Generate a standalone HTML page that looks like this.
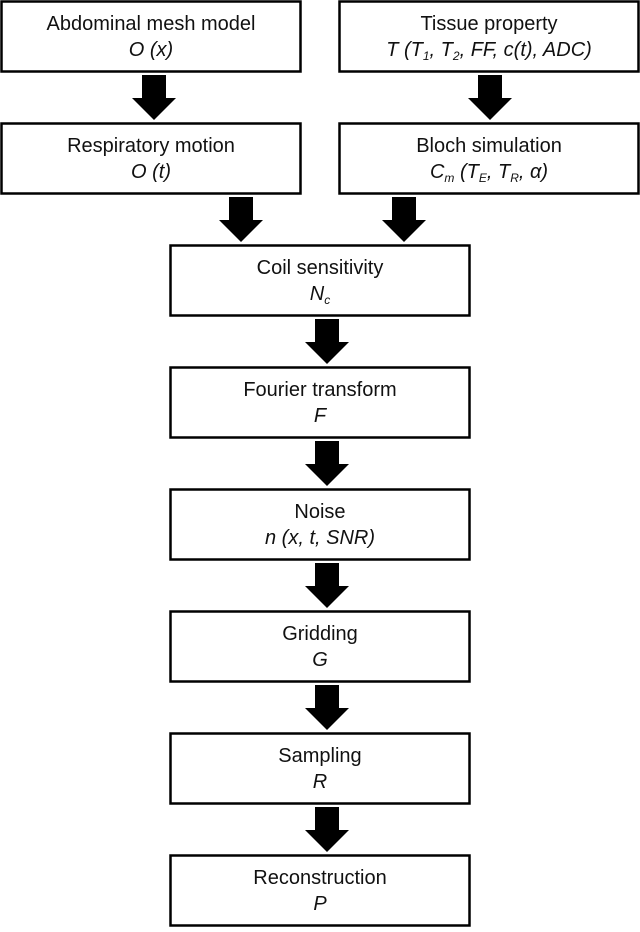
<!DOCTYPE html>
<html><head><meta charset="utf-8"><style>
html,body{margin:0;padding:0;background:#fff;}
svg{display:block}
text{font-family:"Liberation Sans",sans-serif;font-size:20px;fill:#111;}
.i{font-style:italic}
</style></head><body>
<svg width="640" height="932" viewBox="0 0 640 932">
<defs>
<path id="ar" d="M-12,0 H12 V23 H22 L0,45 L-22,23 H-12 Z" fill="#000"/>
</defs>
<g fill="none" stroke="#000" stroke-width="2.5">
<rect x="1.5" y="1.5" width="299" height="70"/>
<rect x="339.5" y="1.5" width="299" height="70"/>
<rect x="1.5" y="123.5" width="299" height="70"/>
<rect x="339.5" y="123.5" width="299" height="70"/>
<rect x="170.5" y="245.5" width="299" height="70"/>
<rect x="170.5" y="367.5" width="299" height="70"/>
<rect x="170.5" y="489.5" width="299" height="70"/>
<rect x="170.5" y="611.5" width="299" height="70"/>
<rect x="170.5" y="733.5" width="299" height="70"/>
<rect x="170.5" y="855.5" width="299" height="70"/>
</g>
<use href="#ar" x="154" y="75"/>
<use href="#ar" x="490" y="75"/>
<use href="#ar" x="241" y="197"/>
<use href="#ar" x="404" y="197"/>
<use href="#ar" x="327" y="319"/>
<use href="#ar" x="327" y="441"/>
<use href="#ar" x="327" y="563"/>
<use href="#ar" x="327" y="685"/>
<use href="#ar" x="327" y="807"/>
<g text-anchor="middle">
<text x="151" y="30">Abdominal mesh model</text>
<text x="151" y="56" class="i">O (x)</text>
<text x="489" y="30">Tissue property</text>
<text x="489" y="56" class="i">T (T<tspan font-size="12" dy="4">1</tspan><tspan dy="-4">, T</tspan><tspan font-size="12" dy="4">2</tspan><tspan dy="-4">, FF, c(t), ADC)</tspan></text>
<text x="151" y="152">Respiratory motion</text>
<text x="151" y="178" class="i">O (t)</text>
<text x="489" y="152">Bloch simulation</text>
<text x="489" y="178" class="i">C<tspan font-size="12" dy="4">m</tspan><tspan dy="-4"> (T</tspan><tspan font-size="12" dy="4">E</tspan><tspan dy="-4">, T</tspan><tspan font-size="12" dy="4">R</tspan><tspan dy="-4">, α)</tspan></text>
<text x="320" y="274">Coil sensitivity</text>
<text x="320" y="300" class="i">N<tspan font-size="12" dy="4">c</tspan></text>
<text x="320" y="396">Fourier transform</text>
<text x="320" y="422" class="i">F</text>
<text x="320" y="518">Noise</text>
<text x="320" y="544" class="i">n (x, t, SNR)</text>
<text x="320" y="640">Gridding</text>
<text x="320" y="666" class="i">G</text>
<text x="320" y="762">Sampling</text>
<text x="320" y="788" class="i">R</text>
<text x="320" y="884">Reconstruction</text>
<text x="320" y="910" class="i">P</text>
</g>
</svg>
</body></html>
